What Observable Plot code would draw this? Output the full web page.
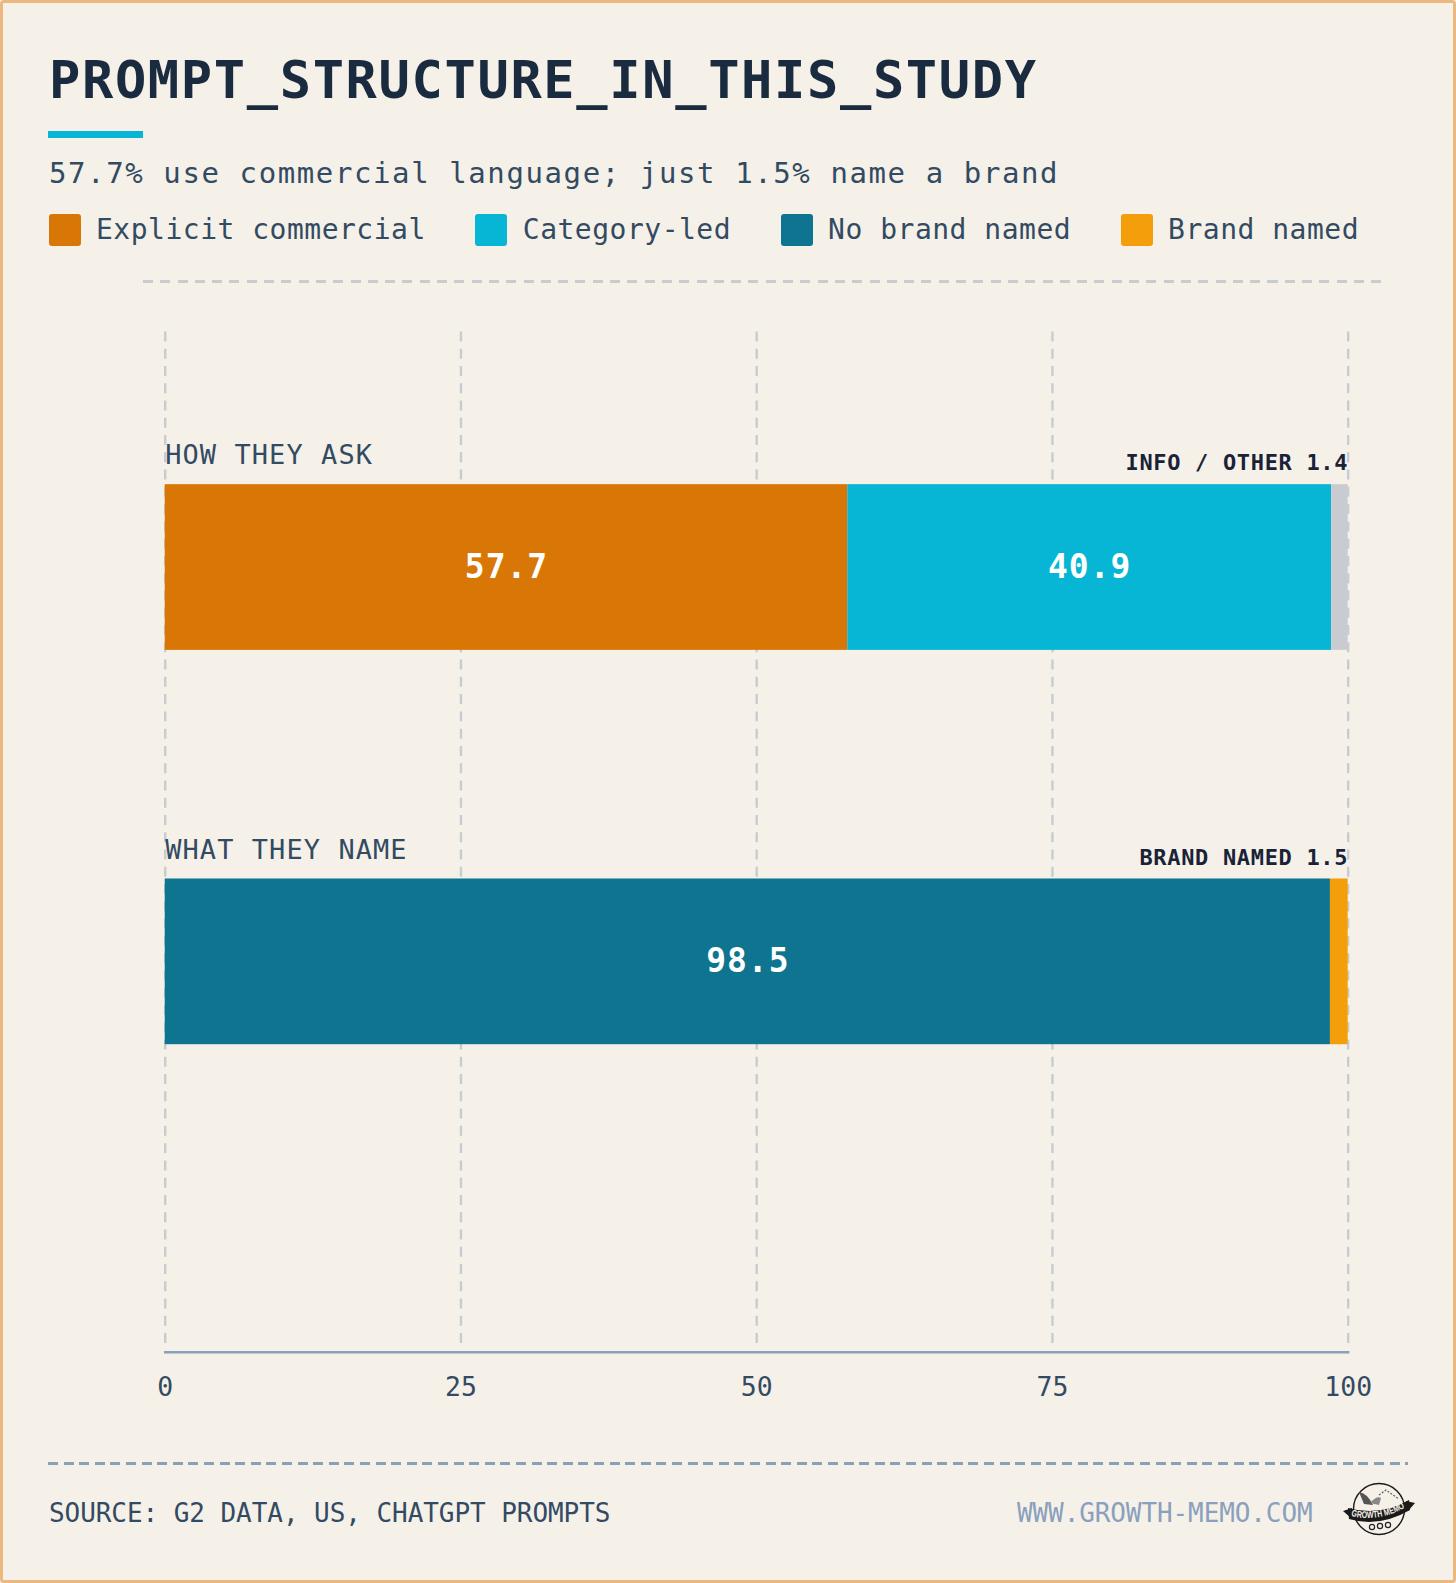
<!DOCTYPE html>
<html><head><meta charset="utf-8">
<script src="https://cdn.jsdelivr.net/npm/d3@7"></script>
<script src="https://cdn.jsdelivr.net/npm/@observablehq/plot@0.6"></script>
<style>
html,body{margin:0;padding:0;background:#f5f1e8}
#page{position:relative;width:1456px;height:1583px;box-sizing:border-box;border:3px solid #ebb97f;border-radius:4px;background:#f5f1e8;font-family:"DejaVu Sans Mono",monospace;overflow:hidden}
#page>*{position:absolute}
#title{left:46px;top:46px;font-size:52px;font-weight:700;letter-spacing:1.65px;color:#1a2a3f;line-height:62px;white-space:nowrap;margin:0}
#rule{left:45px;top:128px;width:95px;height:6.5px;background:#06b6d4}
#subtitle{left:46px;top:152px;font-size:29px;letter-spacing:1.6px;color:#334a63;line-height:36px;white-space:nowrap}
#legend{left:45.5px;top:211px;display:flex;gap:49.5px;font-size:28px;letter-spacing:.5px;color:#334a63;line-height:32px;white-space:nowrap}
#legend div{display:flex;align-items:center;gap:15.5px}
#legend i{display:block;width:32px;height:32px;border-radius:3px}
#sep1{left:140px;top:277px;width:1245px;height:2.5px;background:repeating-linear-gradient(90deg,#c6ccd2 0 10px,transparent 10px 17.3px)}
#chart{left:-3.5px;top:-1px}
#sep2{left:45px;top:1459px;width:1360px;height:2.5px;background:repeating-linear-gradient(90deg,#8a9fb8 0 10px,transparent 10px 15.6px)}
#source{left:46px;top:1494px;font-size:26px;letter-spacing:-.06px;color:#334a63;line-height:32px;white-space:nowrap}
#site{left:1014px;top:1494px;font-size:26px;letter-spacing:-.1px;color:#8aa0bc;line-height:32px;white-space:nowrap}
#logo{left:1340px;top:1479px}
.val text{letter-spacing:1px}
.cat text{letter-spacing:1.1px}
.small text{letter-spacing:.7px}
</style></head><body>
<div id="page">
<h1 id="title"></h1>
<div id="rule"></div>
<div id="subtitle"></div>
<div id="legend"></div>
<div id="sep1"></div>
<div id="chart"></div>
<div id="sep2"></div>
<div id="source"></div>
<div id="site"></div>
<svg id="logo" width="72" height="54" viewBox="0 0 72 54">
  <circle cx="36" cy="27" r="25.5" fill="#f5f1e8" stroke="#1a1a1a" stroke-width="1.4"/>
  <path d="M16 10 Q24 11 30 23 L21 22 Z" fill="#555"/>
  <path d="M27 21 Q34 13 38 16 L36 23 Z" fill="#888"/>
  <path d="M36 13 L43 8 L50 13 L56 17" fill="none" stroke="#555" stroke-width="1.1" stroke-dasharray="2 1.5"/>
  <path d="M0 29 L9 26 L8 36 Z M72 21 L63 19 L65 29 Z" fill="#1a1a1a"/>
  <path d="M5 26 Q36 35 66 18 L67 28 Q36 46 6 37 Z" fill="#1a1a1a"/>
  <path id="ribText" d="M8 34 Q36 41 65 24" fill="none"/>
  <text font-family="Liberation Sans,sans-serif" font-size="9.5" font-weight="700" fill="#f5f1e8"><textPath href="#ribText" textLength="56" lengthAdjust="spacingAndGlyphs">GROWTH MEMO</textPath></text>
  <circle cx="29" cy="45" r="2.6" fill="none" stroke="#222" stroke-width="1.2"/>
  <circle cx="37" cy="44" r="2.6" fill="none" stroke="#222" stroke-width="1.2"/>
  <circle cx="45" cy="43" r="2.6" fill="none" stroke="#222" stroke-width="1.2"/>
</svg>
</div>
<script>
const titleText = "PROMPT_STRUCTURE_IN_THIS_STUDY";
const subtitleText = "57.7% use commercial language; just 1.5% name a brand";
const sourceText = "SOURCE: G2 DATA, US, CHATGPT PROMPTS";
const siteText = "WWW.GROWTH-MEMO.COM";

const rows = ["HOW THEY ASK", "WHAT THEY NAME"];
const segmentRow = ["HOW THEY ASK", "HOW THEY ASK", "HOW THEY ASK", "WHAT THEY NAME", "WHAT THEY NAME"];
const segmentName = ["Explicit commercial", "Category-led", "Info / other", "No brand named", "Brand named"];
const segmentValue = [57.7, 40.9, 1.4, 98.5, 1.5];
const segmentColor = ["#d97706", "#06b6d4", "#c8ccd0", "#0e7490", "#f59e0b"];
const legendNames = ["Explicit commercial", "Category-led", "No brand named", "Brand named"];
const smallLabels = ["INFO / OTHER 1.4", "BRAND NAMED 1.5"];
const xTicks = [0, 25, 50, 75, 100];
const valueLabelMin = 5;

document.getElementById("title").textContent = titleText;
document.getElementById("subtitle").textContent = subtitleText;
document.getElementById("source").textContent = sourceText;
document.getElementById("site").textContent = siteText;
const legend = document.getElementById("legend");
legendNames.forEach(n => {
  const d = document.createElement("div");
  const i = document.createElement("i");
  i.style.background = segmentColor[segmentName.indexOf(n)];
  d.append(i, document.createTextNode(n));
  legend.append(d);
});

const segments = segmentName.map((name, i) => ({row: segmentRow[i], name, value: segmentValue[i]}));
const mono = "DejaVu Sans Mono";
const stack = {x: "value", y: "row", order: null};

const plot = Plot.plot({
  width: 1456, height: 1415,
  marginLeft: 165, marginRight: 106, marginTop: 330, marginBottom: 63,
  style: {background: "transparent", fontFamily: mono, overflow: "visible"},
  x: {domain: [0, 100]},
  y: {domain: rows, axis: null, paddingInner: 0.579, paddingOuter: 0.5815, align: 0.333},
  color: {domain: segmentName, range: segmentColor},
  marks: [
    Plot.ruleX(xTicks, {stroke: "#c6ccd2", strokeWidth: 2.4, strokeDasharray: "10 7.3", insetBottom: 5}),
    Plot.barX(segments, Plot.stackX({...stack, fill: "name"})),
    Plot.text(segments.filter(d => d.value > valueLabelMin), Plot.stackX({
      ...stack, text: d => d.value.toFixed(1), fill: "#fff", fontSize: 33, fontWeight: 700, className: "val"
    })),
    Plot.text(rows, {x: () => 0, y: d => d, text: d => d, textAnchor: "start", dy: -112, fontSize: 27, fill: "#334a63", className: "cat"}),
    Plot.text(rows, {x: () => 100, y: d => d, text: (d, i) => smallLabels[i], textAnchor: "end", dy: -104.5, fontSize: 22, fontWeight: 700, fill: "#1a2238", className: "small"}),
    Plot.frame({anchor: "bottom", stroke: "#8aa0bc", strokeWidth: 2.5}),
    Plot.axisX({ticks: xTicks, tickSize: 0, tickPadding: 25, fontSize: 26.5, label: null, color: "#334a63", tickFormat: d => d})
  ]
});
document.getElementById("chart").append(plot);
</script>
</body></html>
